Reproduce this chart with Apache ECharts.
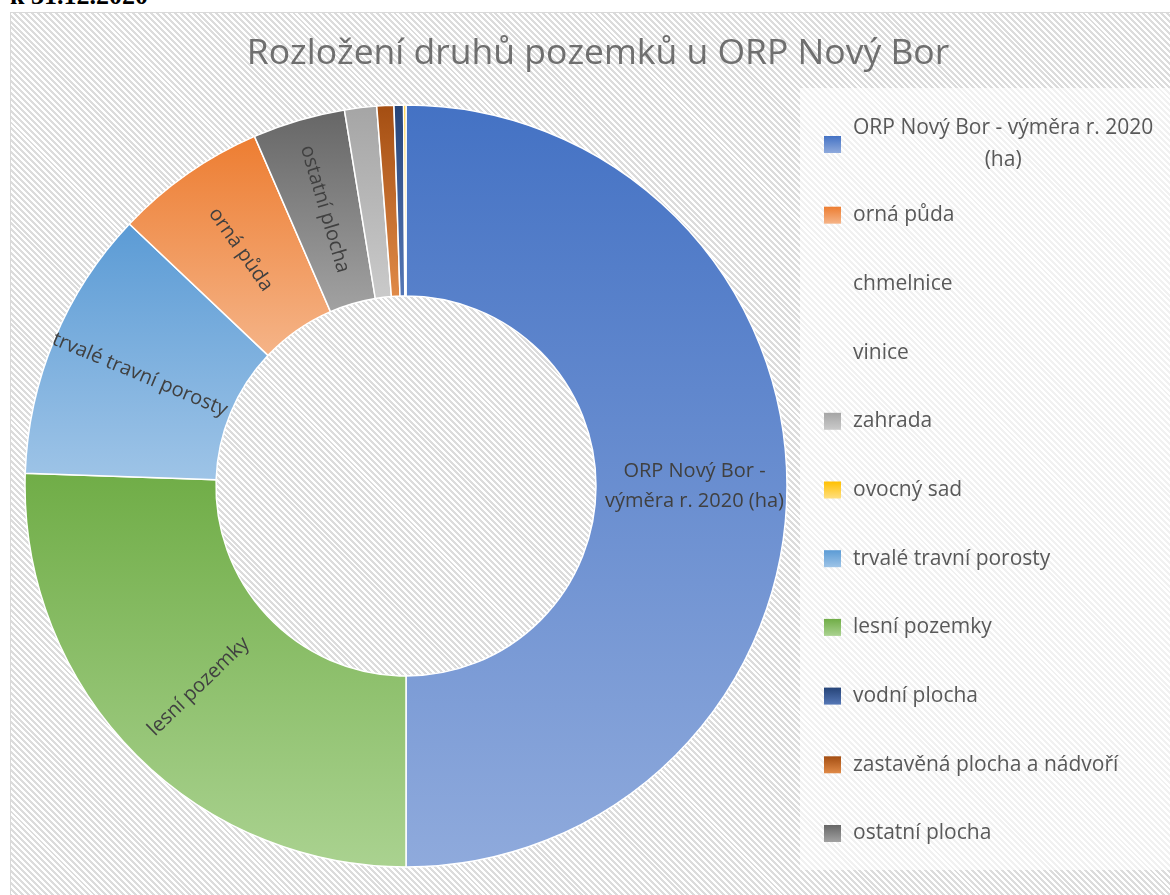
<!DOCTYPE html>
<html>
<head>
<meta charset="utf-8">
<script src="https://cdn.jsdelivr.net/npm/echarts@6/dist/echarts.min.js"></script>
<style>
  html, body { margin: 0; padding: 0; background: #ffffff; }
  #wrap { position: relative; width: 1170px; height: 895px; overflow: hidden; background: #ffffff; }
  #frame {
    position: absolute; left: 10px; top: 12px; width: 1170px; height: 900px;
    border: 1px solid #d9d9d9; box-sizing: border-box;
    background: repeating-linear-gradient(45deg, #ffffff 0px, #ffffff 2.1px, #dcdcdc 2.1px, #dcdcdc 4.2px);
  }
  #note {
    position: absolute; left: 10px; top: -17px; font-family: "Liberation Serif", "DejaVu Serif", serif;
    font-weight: bold; font-size: 26px; line-height: 1; color: #000;
  }
  #chart { position: absolute; left: 0; top: 0; width: 1170px; height: 895px; }
</style>
</head>
<body>
<div id="wrap">
  <div id="frame"></div>
  <div id="note">k 31.12.2020</div>
  <div id="chart"></div>
</div>
<script>
// ---- data (legend order) ----
const titleText = 'Rozložení druhů pozemků u ORP Nový Bor';
const categories = [
  'ORP Nový Bor - výměra r. 2020 (ha)',
  'orná půda',
  'chmelnice',
  'vinice',
  'zahrada',
  'ovocný sad',
  'trvalé travní porosty',
  'lesní pozemky',
  'vodní plocha',
  'zastavěná plocha a nádvoří',
  'ostatní plocha'
];
const values = [14905, 1915, 0, 0, 405, 30, 3440, 7610, 120, 215, 1170];
// clockwise drawing order in the donut (starting at 12 o'clock)
const drawOrder = [
  'ORP Nový Bor - výměra r. 2020 (ha)',
  'lesní pozemky',
  'trvalé travní porosty',
  'orná půda',
  'ostatní plocha',
  'zahrada',
  'zastavěná plocha a nádvoří',
  'vodní plocha',
  'ovocný sad',
  'chmelnice',
  'vinice'
];
const labelled = ['ORP Nový Bor - výměra r. 2020 (ha)', 'lesní pozemky', 'trvalé travní porosty', 'orná půda', 'ostatní plocha'];

// ---- styles ----
const gradients = {
  'ORP Nový Bor - výměra r. 2020 (ha)': ['#4472C4', '#8FAADC'],
  'orná půda': ['#ED7D31', '#F5B488'],
  'chmelnice': ['rgba(0,0,0,0)', 'rgba(0,0,0,0)'],
  'vinice': ['rgba(0,0,0,0)', 'rgba(0,0,0,0)'],
  'zahrada': ['#A5A5A5', '#CACACA'],
  'ovocný sad': ['#FFC000', '#FFDF80'],
  'trvalé travní porosty': ['#5B9BD5', '#9EC4E7'],
  'lesní pozemky': ['#70AD47', '#AAD290'],
  'vodní plocha': ['#264478', '#5577B6'],
  'zastavěná plocha a nádvoří': ['#A44E12', '#E08A48'],
  'ostatní plocha': ['#666666', '#A2A2A2']
};
function grad(name) {
  const c = gradients[name];
  return { type: 'linear', x: 0, y: 0, x2: 0, y2: 1, colorStops: [{ offset: 0, color: c[0] }, { offset: 1, color: c[1] }] };
}
const FONT = '"Open Sans", "Noto Sans", sans-serif';
const LFS = 21;

const pieData = drawOrder.map(function (name) {
  const v = values[categories.indexOf(name)];
  const transparent = (name === 'chmelnice' || name === 'vinice');
  return {
    name: name,
    value: v,
    itemStyle: { color: grad(name), borderColor: transparent ? 'rgba(0,0,0,0)' : '#ffffff', borderWidth: transparent ? 0 : 1.5 },
    label: { show: labelled.indexOf(name) >= 0 }
  };
});

// one legend component per entry, stacked with constant spacing
const legends = categories.map(function (name, i) {
  const center = 144 + i * 68.7;
  const isOrp = (i === 0);
  return {
    orient: 'vertical',
    left: 824,
    top: isOrp ? center - 26 : center - 8,
    padding: 0,
    selectedMode: false,
    itemWidth: 17,
    itemHeight: 17,
    icon: 'rect',
    data: [{ name: name, itemStyle: { borderWidth: 0 } }],
    formatter: isOrp ? '{a|ORP Nový Bor - výměra r. 2020}\n{b|(ha)}' : '{n|' + name + '}',
    textStyle: {
      color: '#595959', fontFamily: FONT, fontSize: LFS, padding: [0, 0, 0, 7],
      rich: {
        a: { fontFamily: FONT, fontSize: LFS, color: '#595959', lineHeight: 32 },
        b: { fontFamily: FONT, fontSize: LFS, color: '#595959', lineHeight: 32, width: 300, align: 'center' },
        n: { fontFamily: FONT, fontSize: LFS, color: '#595959', lineHeight: 24 }
      }
    }
  };
});

const chart = echarts.init(document.getElementById('chart'), null, { renderer: 'canvas' });
chart.setOption({
  animation: false,
  backgroundColor: 'transparent',
  title: {
    text: titleText,
    left: 593, top: 31, textAlign: 'center',
    textStyle: { fontFamily: FONT, fontSize: 35.5, fontWeight: 'normal', color: '#6f6f6f' }
  },
  graphic: [{
    type: 'rect', z: -1, silent: true,
    shape: { x: 800, y: 88, width: 370, height: 782 },
    style: { fill: 'rgba(255,255,255,0.6)' }
  }],
  legend: legends,
  series: [{
    type: 'pie',
    center: [406, 486],
    radius: [190, 381],
    startAngle: 90,
    clockwise: true,
    avoidLabelOverlap: false,
    minAngle: 0,
    label: {
      position: 'inside',
      rotate: 'radial',
      color: '#404040',
      fontFamily: FONT,
      fontSize: 20,
      lineHeight: 30,
      align: 'center',
      formatter: function (p) {
        return p.name === categories[0] ? 'ORP Nový Bor -\nvýměra r. 2020 (ha)' : p.name;
      }
    },
    labelLine: { show: false },
    emphasis: { disabled: true },
    data: pieData
  }]
});
</script>
</body>
</html>
